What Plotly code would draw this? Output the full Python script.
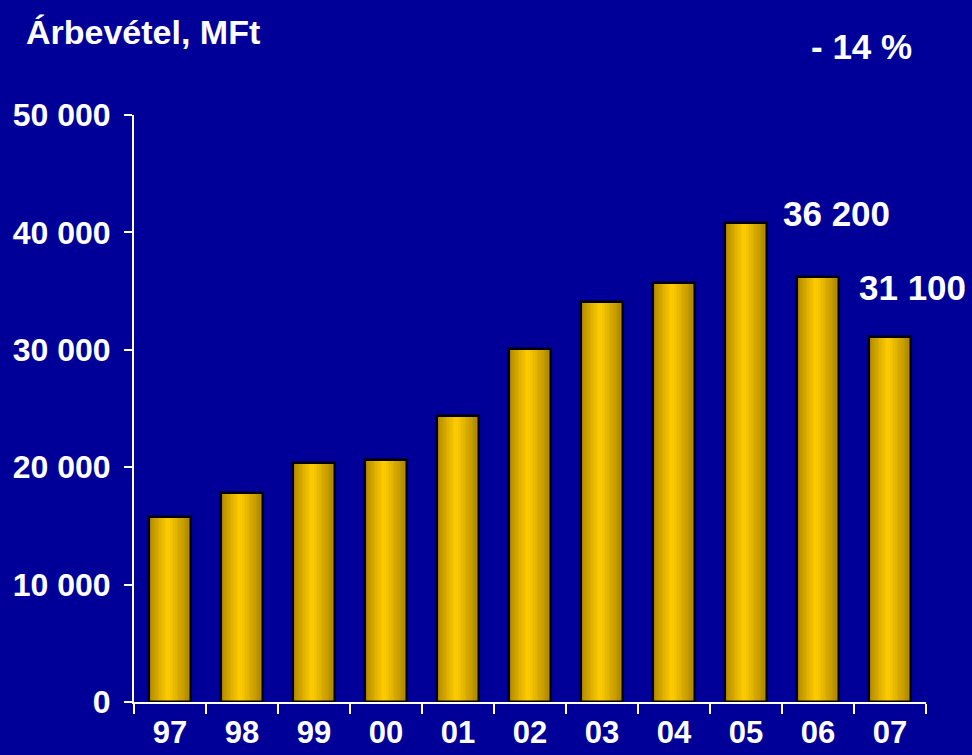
import plotly.graph_objects as go

# ---- data ----
years = ["97", "98", "99", "00", "01", "02", "03", "04", "05", "06", "07"]
revenue = [15800, 17800, 20350, 20600, 24400, 30050, 34100, 35700, 40800, 36200, 31100]
y_tickvals = [0, 10000, 20000, 30000, 40000, 50000]
y_ticktext = ["0", "10 000", "20 000", "30 000", "40 000", "50 000"]
title_text = "Árbevétel, MFt"
change_text = "- 14 %"
labelled_years = ["06", "07"]

# ---- style ----
BG = "#000099"
FONT = "Liberation Sans, Arial, sans-serif"
BAR_W = 0.58
N = 24
dark_l = (165, 128, 0)
dark_r = (160, 124, 0)
bright = (255, 204, 0)
peak = 0.45


def strip_color(t):
    if t <= peak:
        f = t / peak
        c0 = dark_l
    else:
        f = (1 - t) / (1 - peak)
        c0 = dark_r
    f = f ** 0.8
    return "rgb(%d,%d,%d)" % tuple(round(c0[i] + (bright[i] - c0[i]) * f) for i in range(3))


fig = go.Figure()
sw = BAR_W / N
for k in range(N):
    t = (k + 0.5) / N
    fig.add_trace(go.Bar(
        x=years, y=revenue,
        width=sw * 1.25, offset=-BAR_W / 2 + k * sw - (sw * 0.125 if k > 0 else 0),
        marker=dict(color=strip_color(t), line=dict(width=0)),
        showlegend=False, hoverinfo="skip",
    ))
# outline
fig.add_trace(go.Bar(
    x=years, y=revenue, width=BAR_W,
    marker=dict(color="rgba(0,0,0,0)", line=dict(color="black", width=2.5)),
    showlegend=False,
))

annotations = [
    dict(text=title_text, xref="paper", yref="paper", x=-0.139, y=1.142,
         xanchor="left", yanchor="middle", showarrow=False,
         font=dict(family=FONT, size=34, color="white", weight="bold")),
    dict(text=change_text, x=0.918, xref="paper", y=1.117, yref="paper",
         xanchor="center", yanchor="middle", showarrow=False,
         font=dict(family=FONT, size=35, color="white", weight="bold")),
]
shifts = {"06": (18, 64), "07": (22, 49)}
for yr in labelled_years:
    i = years.index(yr)
    v = revenue[i]
    annotations.append(dict(
        text=f"{v:,}".replace(",", " "), x=i, y=v, xref="x", yref="y",
        xshift=shifts[yr][0], yshift=shifts[yr][1], showarrow=False,
        xanchor="center", yanchor="middle",
        font=dict(family=FONT, size=35, color="white", weight="bold")))

fig.update_layout(
    width=972, height=755,
    paper_bgcolor=BG, plot_bgcolor=BG,
    margin=dict(l=134, r=46, t=115, b=53),
    barmode="overlay", bargap=0,
    annotations=annotations,
    font=dict(family=FONT, color="white", size=32, weight="bold"),
)
fig.update_xaxes(
    type="category", range=[-0.5, len(years) - 0.5], autorange=False,
    showline=True, linecolor="white", linewidth=2,
    ticks="outside", ticklen=10, tickwidth=2, tickcolor="white",
    tickson="boundaries", showgrid=False, zeroline=False, automargin=False,
    tickfont=dict(family=FONT, size=31, color="white", weight="bold"),
    ticklabelstandoff=2,
)
fig.update_yaxes(
    range=[0, 50000], autorange=False, tickvals=y_tickvals, ticktext=y_ticktext,
    showline=True, linecolor="white", linewidth=2,
    ticks="outside", ticklen=8, tickwidth=2, tickcolor="white",
    showgrid=False, zeroline=False, automargin=False,
    tickfont=dict(family=FONT, size=32, color="white", weight="bold"),
    ticklabelstandoff=7,
)

fig.write_html(
    "out.html",
    config={"displayModeBar": False},
    post_script="document.body.style.margin='0';document.body.style.background='%s';" % BG,
)
